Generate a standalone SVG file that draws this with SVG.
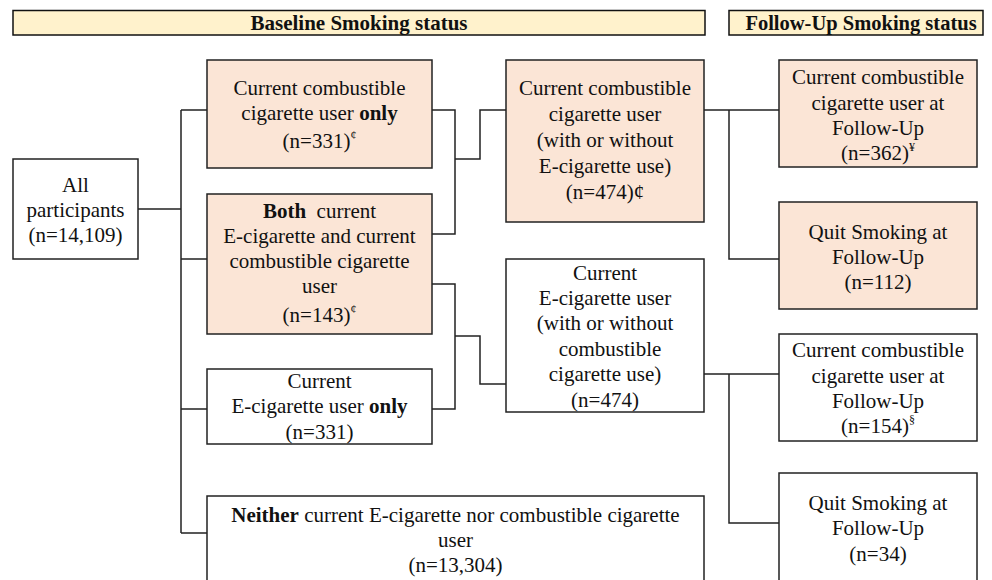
<svg xmlns="http://www.w3.org/2000/svg" width="992" height="580" viewBox="0 0 992 580">
<style>
text{font-family:"Liberation Serif","Times New Roman",serif;font-size:21px;fill:#111;text-anchor:middle}
.hd{font-weight:bold}
.b{font-weight:bold}
.sup{font-size:12px}
.bar{fill:#FFF2CC;stroke:#111;stroke-width:1.5}
.box{fill:#fff;stroke:#222;stroke-width:1.5}
.pk{fill:#FBE5D6;stroke:#222;stroke-width:1.5}
.con path{fill:none;stroke:#222;stroke-width:1.5}
</style>
<rect width="992" height="580" fill="#fff"/>
<g id="hdr-baseline"><rect class="bar" x="13" y="10.5" width="692" height="24.5"/><text class="hd" x="359" y="30">Baseline Smoking status</text></g>
<g id="hdr-followup"><rect class="bar" x="729" y="10.5" width="254" height="24.5"/><text class="hd" x="861" y="30" style="font-size:20.5px">Follow-Up Smoking status</text></g>

<g class="con" id="connectors">
<path d="M138 209H181M181 110V533M181 110H207M181 259H207M181 409H207M181 533H207"/>
<path d="M432 110H455V234H432M455 159H480V110H506"/>
<path d="M432 284H455V409H432M455 336H480V384H506"/>
<path d="M704 110H779M729 110V259H779"/>
<path d="M704 374H779M729 374V523H779"/>
</g>

<g id="all"><rect class="box" x="13" y="159" width="125" height="100"/>
<text x="75.5" y="192">All</text><text x="75.5" y="217">participants</text><text x="75.5" y="242">(n=14,109)</text></g>

<g id="cc-only"><rect class="pk" x="207" y="60" width="225" height="108"/>
<text x="319.5" y="95">Current combustible</text>
<text x="319.5" y="120">cigarette user <tspan class="b">only</tspan></text>
<text x="319.5" y="148">(n=331)<tspan class="sup" dy="-9">¢</tspan></text></g>

<g id="both"><rect class="pk" x="207" y="194" width="225" height="140"/>
<text x="319.5" y="218" xml:space="preserve"><tspan class="b">Both</tspan>  current</text>
<text x="319.5" y="243">E-cigarette and current</text>
<text x="319.5" y="268">combustible cigarette</text>
<text x="319.5" y="293">user</text>
<text x="319.5" y="322">(n=143)<tspan class="sup" dy="-9">¢</tspan></text></g>

<g id="ecig-only"><rect class="box" x="207" y="369" width="225" height="75"/>
<text x="319.5" y="388">Current</text>
<text x="319.5" y="413">E-cigarette user <tspan class="b">only</tspan></text>
<text x="319.5" y="439">(n=331)</text></g>

<g id="neither"><rect class="box" x="207" y="496" width="497" height="110"/>
<text x="455.5" y="522"><tspan class="b">Neither</tspan> current E-cigarette nor combustible cigarette</text>
<text x="455.5" y="547">user</text>
<text x="455.5" y="572">(n=13,304)</text></g>

<g id="cc-any"><rect class="pk" x="506" y="60" width="198" height="162"/>
<text x="605" y="95">Current combustible</text>
<text x="605" y="121">cigarette user</text>
<text x="605" y="147">(with or without</text>
<text x="605" y="173">E-cigarette use)</text>
<text x="605" y="199">(n=474)¢</text></g>

<g id="ecig-any"><rect class="box" x="506" y="259" width="198" height="153"/>
<text x="605" y="280">Current</text>
<text x="605" y="305">E-cigarette user</text>
<text x="605" y="330">(with or without</text>
<text x="610" y="356">combustible</text>
<text x="605" y="381">cigarette use)</text>
<text x="605" y="407">(n=474)</text></g>

<g id="fu-cc1"><rect class="pk" x="779" y="60" width="198" height="107"/>
<text x="878" y="84">Current combustible</text>
<text x="878" y="110">cigarette user at</text>
<text x="878" y="135">Follow-Up</text>
<text x="878" y="160">(n=362)<tspan class="sup" dy="-9">¥</tspan></text></g>

<g id="fu-quit1"><rect class="pk" x="779" y="202" width="198" height="107"/>
<text x="878" y="239">Quit Smoking at</text>
<text x="878" y="264">Follow-Up</text>
<text x="878" y="289">(n=112)</text></g>

<g id="fu-cc2"><rect class="box" x="779" y="334" width="198" height="107"/>
<text x="878" y="357">Current combustible</text>
<text x="878" y="383">cigarette user at</text>
<text x="878" y="408">Follow-Up</text>
<text x="878" y="433">(n=154)<tspan class="sup" dy="-9">§</tspan></text></g>

<g id="fu-quit2"><rect class="box" x="779" y="473" width="198" height="130"/>
<text x="878" y="510">Quit Smoking at</text>
<text x="878" y="535">Follow-Up</text>
<text x="878" y="561">(n=34)</text></g>
</svg>
